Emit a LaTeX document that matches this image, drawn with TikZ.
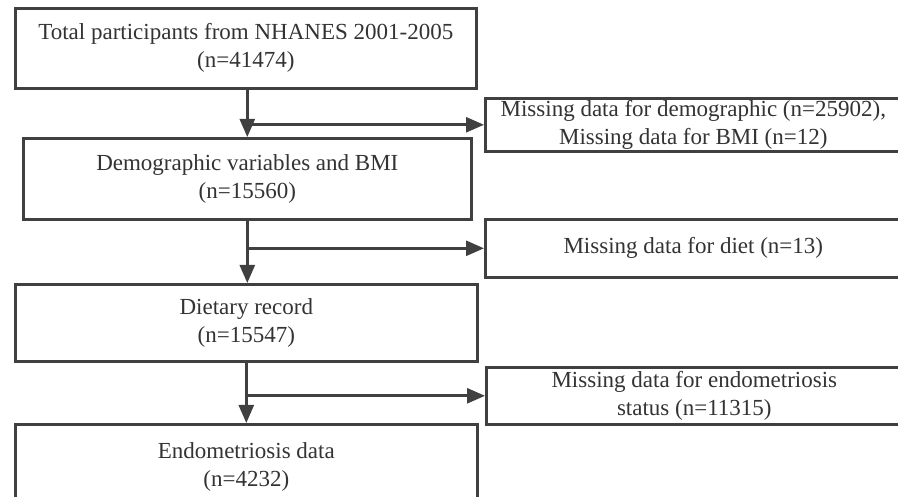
\documentclass[tikz,border=0pt]{standalone}
\usepackage{fontspec}
\setmainfont{Liberation Serif}
\usepackage{tikz}
\usetikzlibrary{arrows.meta, positioning, calc}
\definecolor{linegray}{HTML}{404040}
\definecolor{textgray}{HTML}{333333}
\tikzset{
  fc box/.style={
    rectangle, draw=linegray, line width=2.6pt, fill=white,
    align=center, text=textgray, inner sep=0pt,
    font=\fontsize{23}{28}\selectfont, anchor=north west
  },
  fc side/.style={
    fc box, minimum width=416pt
  },
  fc arrow/.style={
    -{Triangle[length=18pt, width=15pt]}, line width=2.6pt, draw=linegray
  }
}

\begin{document}
\begin{tikzpicture}[x=1pt, y=-1pt]
  \clip (0,0) rectangle (898,497);
  \fill[white] (0,0) rectangle (898,497);
  % main column
  \node (total) [fc box, minimum width=461pt, minimum height=80pt] at (14,7)
    {Total participants from NHANES 2001-2005\\(n=41474)};
  \node (demo) [fc box, minimum width=448pt, minimum height=81pt] at (22,137)
    {Demographic variables and BMI\\(n=15560)};
  \node (diet) [fc box, minimum width=462pt, minimum height=77pt] at (14,283)
    {Dietary record\\(n=15547)};
  \node (endo) [fc box, minimum width=462pt, minimum height=86pt] at (14,423)
    {Endometriosis data\\(n=4232)};
  % exclusions
  \node (miss1) [fc side, minimum height=53pt] at (484,97)
    {Missing data for demographic (n=25902),\\Missing data for BMI (n=12)};
  \node (miss2) [fc side, minimum height=58pt] at (484,218)
    {Missing data for diet (n=13)};
  \node (miss3) [fc side, minimum height=57pt] at (485,366)
    {Missing data for endometriosis\\status (n=11315)};

  \draw [fc arrow] (total.south -| demo.north) -- (demo.north);
  \draw [fc arrow] (demo.south) -- (demo.south |- diet.north);
  \draw [fc arrow] (diet.south) -- (endo.north);
  \draw [fc arrow] (miss1.west -| demo.north) -- (miss1.west);
  \draw [fc arrow] (miss2.west -| demo.south) -- (miss2.west);
  \draw [fc arrow] (miss3.west -| diet.south) -- (miss3.west);
\end{tikzpicture}
\end{document}
